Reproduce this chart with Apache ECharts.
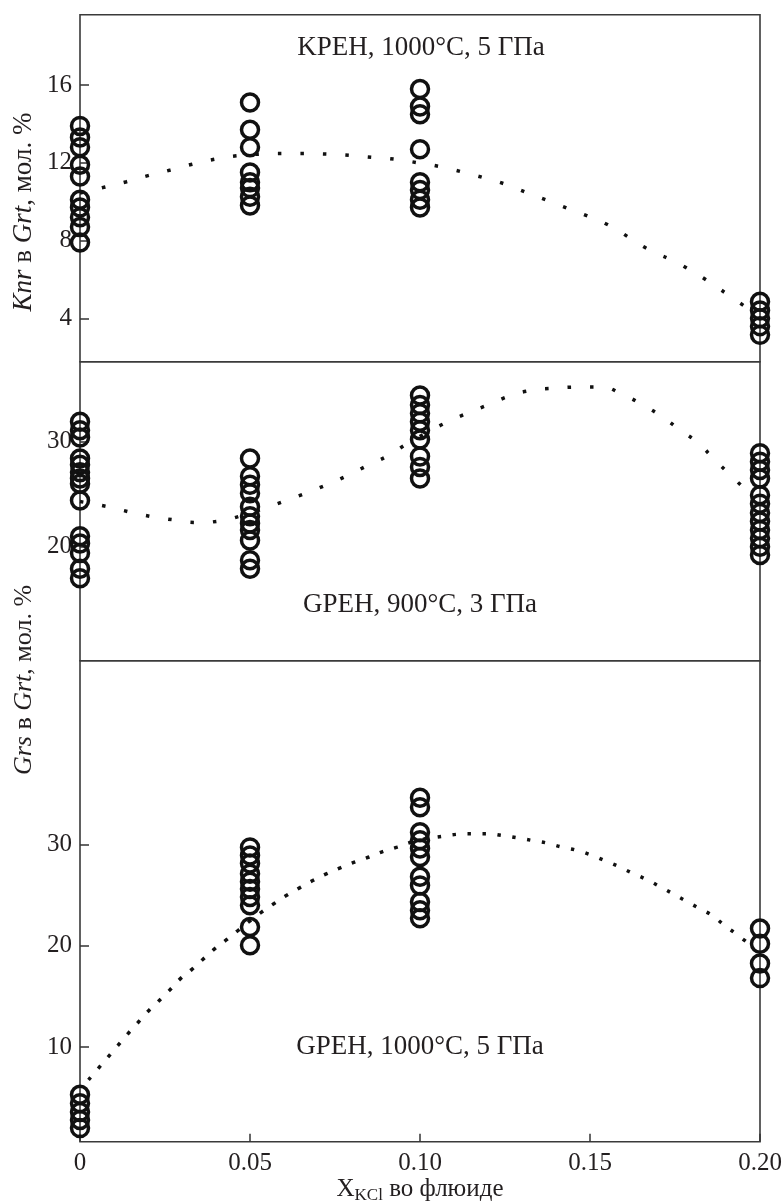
<!DOCTYPE html>
<html>
<head>
<meta charset="utf-8">
<script src="https://cdn.jsdelivr.net/npm/echarts@6/dist/echarts.min.js"></script>
<style>
	html, body { margin: 0; padding: 0; background: #fff; }
	#chart { width: 784px; height: 1204px; }
</style>
</head>
<body>
<div id="chart"></div>
<script>
// X positions of the sample groups (X_KCl in fluid)
var xGroups = [0, 0.05, 0.10, 0.20];

// Knr in Grt, KPEH 1000°C 5 GPa — one list per x group
var knrVals = [
	[13.9, 13.3, 12.8, 11.9, 11.3, 10.1, 9.7, 9.2, 8.7, 7.9],
	[15.1, 13.7, 12.8, 11.5, 11.0, 10.7, 10.25, 9.8],
	[15.8, 14.9, 14.5, 12.7, 11.0, 10.6, 10.1, 9.7],
	[4.85, 4.4, 4.0, 3.6, 3.15]
];
// Grs in Grt, GPEH 900°C 3 GPa
var grs900Vals = [
	[31.9, 31.1, 30.4, 28.4, 27.8, 27.1, 26.5, 26.0, 24.4, 21.0, 20.3, 19.4, 17.9, 17.0],
	[28.4, 26.7, 25.9, 25.1, 23.8, 22.9, 22.2, 21.6, 20.6, 18.7, 17.9],
	[34.4, 33.5, 32.7, 31.9, 31.1, 30.2, 28.6, 27.6, 26.5],
	[28.9, 28.1, 27.3, 26.5, 24.9, 24.1, 23.2, 22.4, 21.6, 20.8, 20.0, 19.2]
];
// Grs in Grt, GPEH 1000°C 5 GPa
var grs1000Vals = [
	[5.3, 4.45, 3.6, 2.8, 2.0],
	[29.7, 28.9, 28.1, 27.1, 26.3, 25.6, 24.8, 24.0, 21.85, 20.05],
	[34.6, 33.65, 31.2, 30.4, 29.6, 28.75, 26.8, 25.95, 24.3, 23.5, 22.7],
	[21.7, 20.2, 18.25, 16.8]
];

// fitted (dotted) trend curves
var knrFit = [[0,10.45],[0.007,10.74],[0.0137,11.03],[0.02,11.34],[0.0266,11.63],[0.033,11.93],[0.0395,12.18],
	[0.046,12.36],[0.053,12.45],[0.0595,12.48],[0.066,12.48],[0.0727,12.45],[0.0795,12.38],[0.0861,12.28],
	[0.0928,12.18],[0.0994,12.0],[0.106,11.8],[0.1124,11.53],[0.1188,11.23],[0.1253,10.89],[0.1315,10.46],
	[0.1377,10.05],[0.144,9.62],[0.1503,9.19],[0.1565,8.7],[0.162,8.1],[0.1677,7.5],[0.1736,7.03],
	[0.1795,6.48],[0.1853,5.85],[0.1907,5.2],[0.1965,4.5]];
var grs900Fit = [[0,24.3],[0.0083,23.8],[0.0147,23.3],[0.0212,22.86],[0.0279,22.54],[0.0343,22.3],[0.0411,22.45],
	[0.0475,22.95],[0.0538,23.6],[0.0602,24.35],[0.0664,25.1],[0.0726,25.9],[0.0788,26.8],[0.085,27.8],
	[0.0908,28.7],[0.0964,29.85],[0.1023,30.9],[0.1082,31.9],[0.1143,32.76],[0.1204,33.56],[0.1268,34.4],
	[0.1331,34.9],[0.1398,35.1],[0.1464,35.2],[0.1532,35.2],[0.1596,34.5],[0.1655,33.5],[0.1711,32.4],
	[0.1765,31.1],[0.1819,29.85],[0.1866,28.3],[0.1914,26.8],[0.1961,25.3]];
var grs1000Fit = [[0.0025,6.75],[0.0054,7.9],[0.0083,9.04],[0.0111,10.13],[0.014,11.28],[0.017,12.4],
	[0.0199,13.48],[0.0231,14.53],[0.0263,15.59],[0.0294,16.7],[0.0329,17.66],[0.0361,18.64],[0.0394,19.63],
	[0.0429,20.54],[0.0465,21.5],[0.0498,22.4],[0.0532,23.27],[0.0571,24.16],[0.0608,24.98],[0.0647,25.73],
	[0.0686,26.45],[0.0726,27.11],[0.0767,27.7],[0.0809,28.26],[0.085,28.75],[0.0892,29.31],[0.0933,29.73],
	[0.0976,30.23],[0.102,30.56],[0.1064,30.79],[0.1108,30.99],[0.1152,31.05],[0.1196,31.05],[0.124,30.89],
	[0.1284,30.66],[0.1329,30.39],[0.1373,30.13],[0.1417,29.73],[0.1461,29.41],[0.1505,28.92],[0.1542,28.42],
	[0.1583,27.83],[0.1624,27.17],[0.1665,26.55],[0.1704,25.86],[0.1743,25.14],[0.1782,24.41],[0.1822,23.67],
	[0.1861,22.94],[0.1895,22.02],[0.1931,21.13],[0.1966,20.22]];

// tick labels
var xTicks = [0, 0.05, 0.10, 0.15, 0.20];
var knrTicks = [4, 8, 12, 16];
var grs900Ticks = [20, 30];
var grs1000Ticks = [10, 20, 30];

var panelTitles = ['KPEH, 1000°C, 5 ГПа', 'GPEH, 900°C, 3 ГПа', 'GPEH, 1000°C, 5 ГПа'];

var FONT = '"Liberation Serif", "DejaVu Serif", serif';
var INK = '#111';
var TXT = '#231f20';

function toPoints(vals) {
	var out = [];
	vals.forEach(function (list, i) {
		list.forEach(function (v) { out.push([xGroups[i], v]); });
	});
	return out;
}

function yAxisFor(idx, min, max, ticks) {
	return {
		gridIndex: idx, type: 'value', min: min, max: max,
		splitLine: { show: false },
		axisLine: { show: false },
		axisTick: { show: true, inside: true, length: 9, customValues: ticks, lineStyle: { color: '#333', width: 1.5 } },
		axisLabel: { customValues: ticks, fontFamily: FONT, fontSize: 25, color: TXT, margin: 8 }
	};
}

function xAxisFor(idx, showLabels) {
	return {
		gridIndex: idx, type: 'value', min: 0, max: 0.2, interval: 0.05,
		splitLine: { show: false },
		axisLine: { show: false },
		axisTick: { show: showLabels, inside: true, length: 8, customValues: xTicks, lineStyle: { color: '#333', width: 1.5 } },
		axisLabel: {
			show: showLabels, customValues: xTicks, fontFamily: FONT, fontSize: 25, color: TXT, margin: 9,
			formatter: function (v) { return v === 0 ? '0' : v.toFixed(2); }
		},
		name: showLabels ? '{x|X}{s|KCl}{x| во флюиде}' : '',
		nameLocation: 'middle', nameGap: 34,
		nameTextStyle: {
			fontFamily: FONT, color: TXT,
			rich: {
				x: { fontFamily: FONT, fontSize: 25, color: TXT, lineHeight: 26, verticalAlign: 'top' },
				s: { fontFamily: FONT, fontSize: 17, color: TXT, lineHeight: 26, verticalAlign: 'top', padding: [10, 0, 0, 0] }
			}
		}
	};
}

function circles(idx, vals) {
	return {
		type: 'scatter', xAxisIndex: idx, yAxisIndex: idx, z: 3,
		symbol: 'circle', symbolSize: 17,
		itemStyle: { color: 'rgba(0,0,0,0)', borderColor: INK, borderWidth: 3.5, opacity: 1 },
		data: toPoints(vals)
	};
}

function trend(idx, pts, gap) {
	return {
		type: 'line', xAxisIndex: idx, yAxisIndex: idx, z: 2,
		showSymbol: false, smooth: true,
		lineStyle: { color: INK, width: 3.5, type: [3.5, gap], opacity: 1 },
		data: pts
	};
}

function axisTitle(text, y, size) {
	return {
		type: 'text', x: 24, y: y, rotation: Math.PI / 2,
		style: {
			text: text, font: size + 'px ' + FONT, fill: TXT,
			textAlign: 'center', textVerticalAlign: 'middle',
			rich: {
				r: { fontFamily: FONT, fontSize: size, fill: TXT },
				i: { fontStyle: 'italic', fontFamily: FONT, fontSize: size, fill: TXT }
			}
		}
	};
}

function panelTitle(text, x, y) {
	return { type: 'text', x: x, y: y, style: { text: text, font: '27px ' + FONT, fill: TXT, textAlign: 'center', textVerticalAlign: 'middle' } };
}

var gridBox = { left: 80, right: 24, show: true, borderColor: '#3a3a3a', borderWidth: 1.6, outerBoundsMode: 'none', containLabel: false };

var option = {
	animation: false,
	backgroundColor: '#fff',
	grid: [
		Object.assign({ top: 14.7, height: 347 }, gridBox),
		Object.assign({ top: 361.7, height: 299 }, gridBox),
		Object.assign({ top: 660.7, height: 481 }, gridBox)
	],
	xAxis: [xAxisFor(0, false), xAxisFor(1, false), xAxisFor(2, true)],
	yAxis: [
		yAxisFor(0, 1.77, 19.62, knrTicks),
		yAxisFor(1, 9.14, 37.62, grs900Ticks),
		yAxisFor(2, 0.66, 48.12, grs1000Ticks)
	],
	graphic: [
		panelTitle(panelTitles[0], 421, 48),
		panelTitle(panelTitles[1], 420, 605),
		panelTitle(panelTitles[2], 420, 1047),
		axisTitle('{i|Knr}{r| в }{i|Grt}{r|, мол. %}', 212, 27),
		axisTitle('{i|Grs}{r| в }{i|Grt}{r|, мол. %}', 680, 26)
	],
	series: [
		trend(0, knrFit, 19),
		trend(1, grs900Fit, 19),
		trend(2, grs1000Fit, 11.5),
		circles(0, knrVals),
		circles(1, grs900Vals),
		circles(2, grs1000Vals)
	]
};

echarts.init(document.getElementById('chart')).setOption(option);
</script>
</body>
</html>
